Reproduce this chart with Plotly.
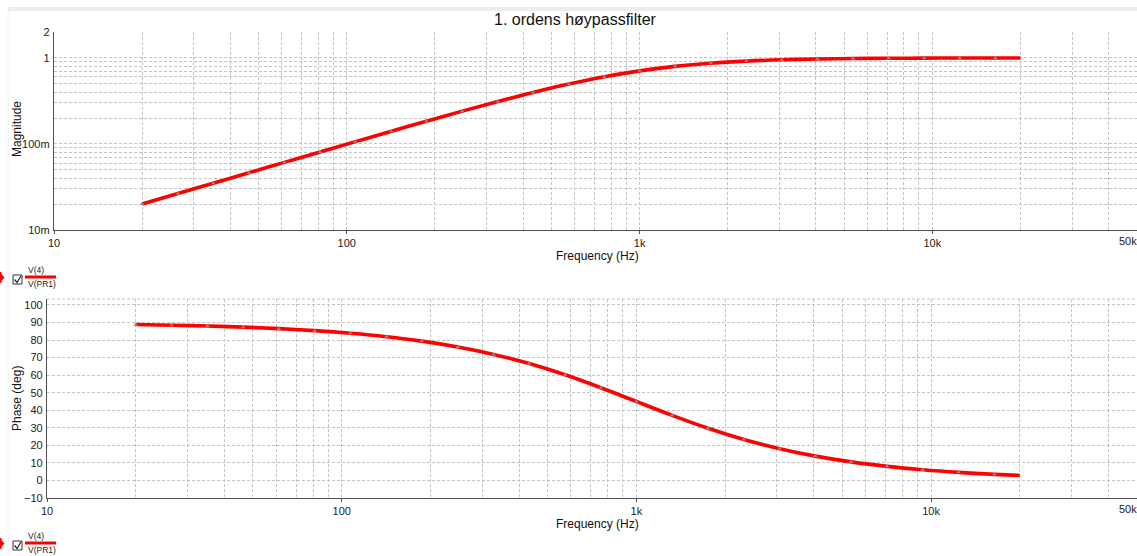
import numpy as np
import plotly.graph_objects as go

# ---- data ----
freq_hz = [20, 26.5, 35.0, 46.3, 61.2, 81.0, 107, 142, 187, 248, 328, 433, 573, 758,
           1000, 1323, 1750, 2315, 3062, 4050, 5357, 7086, 9373, 12400, 16400, 20000]
magnitude = [0.0200, 0.0265, 0.0350, 0.0462, 0.0611, 0.0807, 0.1064, 0.1406, 0.1838,
             0.2407, 0.3117, 0.3975, 0.4970, 0.6040, 0.7071, 0.7977, 0.8682, 0.9180,
             0.9506, 0.9708, 0.9830, 0.9902, 0.9944, 0.9968, 0.9981, 0.9988]
phase_deg = [88.85, 88.48, 88.0, 87.35, 86.50, 85.37, 83.89, 81.92, 79.41, 76.07,
             71.84, 66.59, 60.19, 52.84, 45.0, 37.09, 29.74, 23.36, 18.09, 13.87,
             10.57, 8.03, 6.09, 4.61, 3.49, 2.86]

x_tickvals = [10, 100, 1000, 10000]
x_ticktext = ["10", "100", "1k", "10k"]
x_edge_label = "50k"
x_minor = [m * d for d in (10, 100, 1000) for m in range(2, 10)] + [20000, 30000, 40000]
mag_tickvals = [0.01, 0.1, 1, 2]
mag_ticktext = ["10m", "100m", "1", "2"]
mag_minor = [m * 0.01 for m in range(2, 10)] + [m * 0.1 for m in range(2, 10)]
phase_tickvals = list(range(-10, 101, 10))

title_text = "1. ordens høypassfilter"
trace_top = "V(4)"
trace_bot = "V(PR1)"

W, H = 1137, 556
def px(x):
    return x / W
def py(y):
    return 1 - y / H

FONT = "Liberation Sans, Arial, sans-serif"
GRID = "#c4c4c4"
AX = "#505050"
RED = "#ff0000"

fig = go.Figure()

# magnitude
fig.add_trace(go.Scatter(x=freq_hz, y=magnitude, mode="lines", line=dict(color=RED, width=3.6, shape="spline"),
                         xaxis="x", yaxis="y", showlegend=False, hoverinfo="skip"))
fig.add_trace(go.Scatter(x=freq_hz[:-1], y=magnitude[:-1], mode="markers",
                         marker=dict(symbol="triangle-up", size=4, color="#8c8c8c"),
                         xaxis="x", yaxis="y", showlegend=False, hoverinfo="skip"))
# phase
fig.add_trace(go.Scatter(x=freq_hz, y=phase_deg, mode="lines", line=dict(color=RED, width=3.6, shape="spline"),
                         xaxis="x2", yaxis="y2", showlegend=False, hoverinfo="skip"))
fig.add_trace(go.Scatter(x=freq_hz[:-1], y=phase_deg[:-1], mode="markers",
                         marker=dict(symbol="triangle-up", size=4, color="#8c8c8c"),
                         xaxis="x2", yaxis="y2", showlegend=False, hoverinfo="skip"))

tickfont = dict(family=FONT, size=11, color="#222")
grid_common = dict(showgrid=True, gridcolor=GRID, griddash="3px,2px", gridwidth=1, zeroline=False,
                   showline=True, linecolor=AX, linewidth=1.3, tickcolor=AX, tickfont=tickfont)

xa = dict(type="log", range=[1, np.log10(50000)], tickmode="array", tickvals=x_tickvals,
          ticktext=x_ticktext, ticks="outside", ticklen=3,
          minor=dict(tickmode="array", tickvals=x_minor, showgrid=True, gridcolor=GRID,
                     griddash="3px,2px", ticklen=0),
          **grid_common)

fig.update_layout(
    width=W, height=H, margin=dict(l=0, r=0, t=0, b=0, autoexpand=False),
    paper_bgcolor="white", plot_bgcolor="white",
    xaxis=dict(domain=[px(54), 1], anchor="y", **xa),
    yaxis=dict(domain=[py(230), py(32)], anchor="x", type="log",
               range=[-2, np.log10(2)], tickmode="array", tickvals=mag_tickvals,
               ticktext=mag_ticktext, ticks="", ticklabelstandoff=1,
               minor=dict(tickmode="array", tickvals=mag_minor, showgrid=True, gridcolor=GRID,
                          griddash="3px,2px", ticklen=0),
               **grid_common),
    xaxis2=dict(domain=[px(47), 1], anchor="y2", **xa),
    yaxis2=dict(domain=[py(498), py(299)], anchor="x2", range=[-10, 103.4],
                tickmode="array", tickvals=phase_tickvals, ticks="", ticklabelstandoff=1,
                **grid_common),
    font=dict(family=FONT),
)

shapes = []
annotations = []

# top ruler band
shapes.append(dict(type="rect", xref="paper", yref="paper", x0=px(8), x1=1, y0=py(11), y1=py(7),
                   fillcolor="#ededed", line=dict(width=0), layer="below"))
shapes.append(dict(type="line", xref="paper", yref="paper", x0=px(8), x1=px(8), y0=0, y1=py(11),
                   line=dict(color="#f1f1f1", width=1), layer="below"))
# top border dotted line of phase plot
shapes.append(dict(type="line", xref="paper", yref="paper", x0=px(47), x1=1, y0=py(299), y1=py(299),
                   line=dict(color=GRID, width=1, dash="3px,2px"), layer="below"))

annotations.append(dict(text=title_text, x=px(575), y=py(19), xref="paper", yref="paper",
                        showarrow=False, font=dict(family=FONT, size=16, color="#111"),
                        xanchor="center", yanchor="middle"))
for yy in (256, 524):
    annotations.append(dict(text="Frequency (Hz)", x=px(597), y=py(yy), xref="paper", yref="paper",
                            showarrow=False, font=dict(family=FONT, size=12, color="#111"),
                            xanchor="center", yanchor="middle"))
for yy in (241, 509):
    annotations.append(dict(text=x_edge_label, x=px(1117), y=py(yy), xref="paper", yref="paper",
                            showarrow=False, font=tickfont, xanchor="left", yanchor="middle"))
annotations.append(dict(text="Magnitude", x=px(17), y=py(129), xref="paper", yref="paper",
                        showarrow=False, textangle=-90, font=dict(family=FONT, size=12, color="#111"),
                        xanchor="center", yanchor="middle"))
annotations.append(dict(text="Phase (deg)", x=px(17), y=py(399), xref="paper", yref="paper",
                        showarrow=False, textangle=-90, font=dict(family=FONT, size=12, color="#111"),
                        xanchor="center", yanchor="middle"))

# legends
for yl in (277, 543):
    # red pointer triangle
    shapes.append(dict(type="path", xref="paper", yref="paper",
                       path=f"M {px(0)},{py(yl-4.5)} L {px(4.5)},{py(yl+0.5)} L {px(0)},{py(yl+5.5)} Z",
                       fillcolor=RED, line=dict(width=0)))
    shapes.append(dict(type="line", xref="paper", yref="paper", x0=px(0.8), x1=px(0.8),
                       y0=py(yl-5), y1=py(yl+6), line=dict(color=RED, width=1.5)))
    # checkbox
    shapes.append(dict(type="rect", xref="paper", yref="paper", x0=px(13), x1=px(22),
                       y0=py(yl+7), y1=py(yl-2), line=dict(color="#333", width=1), fillcolor="white"))
    shapes.append(dict(type="path", xref="paper", yref="paper",
                       path=f"M {px(14.5)},{py(yl+2.5)} L {px(17)},{py(yl+5.5)} L {px(21)},{py(yl-1)}",
                       line=dict(color="#222", width=1.2)))
    # red line
    shapes.append(dict(type="line", xref="paper", yref="paper", x0=px(25), x1=px(56),
                       y0=py(yl), y1=py(yl), line=dict(color=RED, width=3)))
    annotations.append(dict(text=trace_top, x=px(26), y=py(yl - 7), xref="paper", yref="paper",
                            showarrow=False, font=dict(family=FONT, size=8.5, color="#222"),
                            xanchor="left", yanchor="middle"))
    annotations.append(dict(text=trace_bot, x=px(26), y=py(yl + 6.5), xref="paper", yref="paper",
                            showarrow=False, font=dict(family=FONT, size=8.5, color="#222"),
                            xanchor="left", yanchor="middle"))

fig.update_layout(shapes=shapes, annotations=annotations)
fig.write_html("out.html", config={"displayModeBar": False},
               post_script="document.body.style.margin='0';document.body.style.overflow='hidden';")
